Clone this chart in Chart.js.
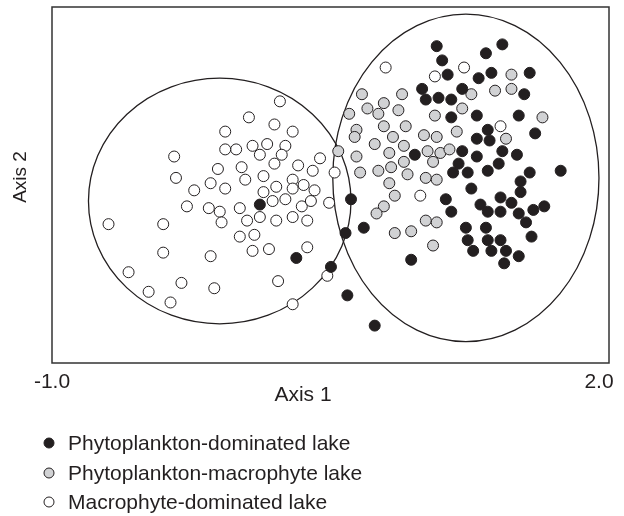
<!doctype html>
<html lang="en">
  <head>
    <meta charset="UTF-8" />
    <title>Lake types ordination</title>
    <script src="https://cdn.jsdelivr.net/npm/chart.js"></script>
    <style>
      html, body { margin: 0; padding: 0; background: #fff; }
      #wrap { width: 624px; height: 516px; }
    </style>
  </head>
  <body>
    <div id="wrap"><canvas id="ordination"></canvas></div>

    <script>
      // axis 1 / axis 2 scores
      const xTicks = [-1, 2];
      const xTitle = "Axis 1";
      const yTitle = "Axis 2";

      const phytoDominated = [
        [1.11, 0.78], [1.47, 0.79], [1.38, 0.74], [1.14, 0.70], [1.17, 0.62], [1.41, 0.63],
        [1.34, 0.60], [1.62, 0.63], [1.03, 0.54], [1.05, 0.48], [1.12, 0.49], [1.19, 0.48],
        [1.25, 0.54], [1.59, 0.51], [1.19, 0.38], [1.33, 0.39], [1.56, 0.39], [1.39, 0.31],
        [1.65, 0.29], [1.33, 0.26], [1.40, 0.25], [1.25, 0.19], [1.47, 0.19], [1.55, 0.17],
        [0.99, 0.17], [1.33, 0.16], [1.45, 0.12], [1.23, 0.12], [1.20, 0.07], [1.28, 0.07],
        [1.39, 0.08], [1.79, 0.08], [1.62, 0.07], [1.57, 0.02], [1.30, -0.02], [1.57, -0.04],
        [1.46, -0.07], [1.16, -0.08], [0.64, -0.08], [1.35, -0.11], [1.39, -0.15], [1.52, -0.10],
        [1.46, -0.15], [1.56, -0.16], [1.64, -0.14], [1.70, -0.12], [1.19, -0.15], [0.71, -0.24],
        [0.61, -0.27], [1.27, -0.24], [1.38, -0.24], [1.60, -0.21], [1.63, -0.29], [1.28, -0.31],
        [1.39, -0.31], [1.46, -0.31], [1.31, -0.37], [1.41, -0.37], [1.49, -0.37], [1.56, -0.40],
        [1.48, -0.44], [0.97, -0.42], [0.53, -0.46], [0.62, -0.62], [0.77, -0.79], [0.34, -0.41],
        [0.14, -0.11]
      ];

      const phytoMacrophyte = [
        [1.52, 0.62], [1.43, 0.53], [1.52, 0.54], [1.30, 0.51], [1.69, 0.38], [0.70, 0.51],
        [0.92, 0.51], [0.63, 0.40], [0.73, 0.43], [0.82, 0.46], [0.79, 0.40], [0.90, 0.42],
        [1.10, 0.39], [1.25, 0.43], [0.82, 0.33], [0.94, 0.33], [0.67, 0.31], [0.66, 0.27],
        [1.22, 0.30], [0.87, 0.27], [1.04, 0.28], [1.11, 0.27], [1.49, 0.26], [0.77, 0.23],
        [0.93, 0.22], [0.57, 0.19], [0.85, 0.18], [1.06, 0.19], [1.13, 0.18], [1.18, 0.20],
        [0.67, 0.16], [0.93, 0.13], [1.09, 0.13], [0.69, 0.07], [0.79, 0.08], [0.86, 0.10],
        [0.95, 0.06], [1.05, 0.04], [1.11, 0.03], [0.85, 0.01], [0.88, -0.06], [0.82, -0.12],
        [0.78, -0.16], [1.05, -0.20], [1.11, -0.21], [0.88, -0.27], [0.97, -0.26], [1.09, -0.34]
      ];

      const macroDominated = [
        [0.25, 0.47], [0.08, 0.38], [0.22, 0.34], [0.32, 0.30], [-0.05, 0.30], [0.28, 0.22],
        [0.18, 0.23], [0.10, 0.22], [0.01, 0.20], [-0.05, 0.20], [0.14, 0.17], [0.26, 0.17],
        [0.47, 0.15], [-0.33, 0.16], [0.35, 0.11], [0.22, 0.12], [0.04, 0.10], [0.43, 0.08],
        [0.55, 0.07], [-0.09, 0.09], [-0.32, 0.04], [0.16, 0.05], [0.06, 0.03], [0.32, 0.03],
        [-0.13, 0.01], [-0.05, -0.02], [-0.22, -0.03], [0.23, -0.01], [0.32, -0.02], [0.38, 0.0],
        [0.44, -0.03], [0.16, -0.04], [0.21, -0.09], [0.28, -0.08], [0.37, -0.12], [0.42, -0.09],
        [0.52, -0.10], [-0.26, -0.12], [-0.14, -0.13], [-0.08, -0.15], [0.03, -0.13], [0.14, -0.18],
        [0.07, -0.20], [0.23, -0.20], [0.32, -0.18], [0.40, -0.20], [-0.07, -0.21], [-0.69, -0.22],
        [-0.39, -0.22], [0.03, -0.29], [0.11, -0.28], [-0.39, -0.38], [-0.13, -0.40], [0.10, -0.37],
        [0.19, -0.36], [0.40, -0.35], [0.51, -0.51], [-0.58, -0.49], [-0.29, -0.55], [-0.47, -0.60],
        [-0.35, -0.66], [-0.11, -0.58], [0.24, -0.54], [0.32, -0.67], [0.83, 0.66], [1.10, 0.61],
        [1.26, 0.66], [1.46, 0.33], [1.02, -0.06]
      ];

      // group ellipses: centre x, centre y, radius x, radius y (axis units)
      const ellipseCx = [-0.08, 1.27];
      const ellipseCy = [-0.09, 0.04];
      const ellipseRx = [0.72, 0.73];
      const ellipseRy = [0.69, 0.92];

      const seriesNames = [
        "Phytoplankton-dominated lake",
        "Phytoplankton-macrophyte lake",
        "Macrophyte-dominated lake"
      ];
      const seriesFill = ["#231f20", "#d1d2d4", "#ffffff"];

      const FONT = 'Arial, "Liberation Sans", sans-serif';
      const INK = "#231f20";

      const toXY = (arr) => arr.map((p) => ({ x: p[0], y: p[1] }));

      const ellipsePlugin = {
        id: "ellipses",
        beforeDatasetsDraw(chart) {
          const { ctx, scales } = chart;
          const xs = scales.x, ys = scales.y;
          ctx.save();
          ctx.strokeStyle = INK;
          ctx.lineWidth = 1.3;
          for (let i = 0; i < ellipseCx.length; i++) {
            const cx = xs.getPixelForValue(ellipseCx[i]);
            const cy = ys.getPixelForValue(ellipseCy[i]);
            const rx = xs.getPixelForValue(ellipseCx[i] + ellipseRx[i]) - cx;
            const ry = cy - ys.getPixelForValue(ellipseCy[i] + ellipseRy[i]);
            ctx.beginPath();
            ctx.ellipse(cx, cy, rx, ry, 0, 0, Math.PI * 2);
            ctx.stroke();
          }
          ctx.restore();
        },
        afterDraw(chart) {
          const { ctx, chartArea } = chart;
          ctx.save();
          // frame
          ctx.strokeStyle = "#333";
          ctx.lineWidth = 1.5;
          ctx.strokeRect(chartArea.left, chartArea.top,
            chartArea.right - chartArea.left, chartArea.bottom - chartArea.top);

          // axis titles (off-centre in the original)
          ctx.fillStyle = INK;
          ctx.font = "21px " + FONT;
          ctx.textAlign = "center";
          ctx.textBaseline = "middle";
          ctx.fillText(xTitle, 303, 395);
          ctx.save();
          ctx.translate(21, 177);
          ctx.rotate(-Math.PI / 2);
          ctx.font = "19px " + FONT;
          ctx.fillText(yTitle, 0, 0);
          ctx.restore();

          // legend, stacked under the plot
          const rows = [443, 473, 502];
          ctx.font = "21px " + FONT;
          ctx.textAlign = "left";
          chart.data.datasets.forEach((ds, i) => {
            ctx.beginPath();
            ctx.arc(49, rows[i], 5, 0, Math.PI * 2);
            ctx.fillStyle = ds.backgroundColor;
            ctx.fill();
            ctx.lineWidth = 1;
            ctx.strokeStyle = ds.borderColor;
            ctx.stroke();
            ctx.fillStyle = INK;
            ctx.fillText(ds.label, 68, rows[i] + 1);
          });
          ctx.restore();
        }
      };

      const sets = [phytoDominated, phytoMacrophyte, macroDominated];

      new Chart(document.getElementById("ordination"), {
        type: "scatter",
        data: {
          datasets: sets.map((s, i) => ({
            label: seriesNames[i],
            data: toXY(s),
            backgroundColor: seriesFill[i],
            borderColor: INK,
            borderWidth: 1,
            pointRadius: 5.5,
            pointHoverRadius: 5.5
          }))
        },
        options: {
          responsive: true,
          maintainAspectRatio: false,
          animation: false,
          events: [],
          layout: { padding: { top: 7, right: 15, bottom: 108, left: 0 } },
          plugins: { legend: { display: false }, tooltip: { enabled: false } },
          scales: {
            x: {
              type: "linear",
              min: -1,
              max: 2.055,
              grid: { display: false, drawTicks: false },
              border: { display: false },
              afterBuildTicks: (s) => { s.ticks = xTicks.map((v) => ({ value: v })); },
              afterFit: (s) => { s.height = 45; },
              ticks: {
                autoSkip: false,
                maxRotation: 0,
                padding: 7,
                color: INK,
                font: { family: FONT, size: 21 },
                callback: (v) => Number(v).toFixed(1)
              },
              title: { display: false }
            },
            y: {
              type: "linear",
              min: -1,
              max: 1,
              grid: { display: false, drawTicks: false },
              border: { display: false },
              ticks: { display: false },
              afterFit: (s) => { s.width = 52; },
              title: { display: false }
            }
          }
        },
        plugins: [ellipsePlugin]
      });
    </script>
  </body>
</html>
